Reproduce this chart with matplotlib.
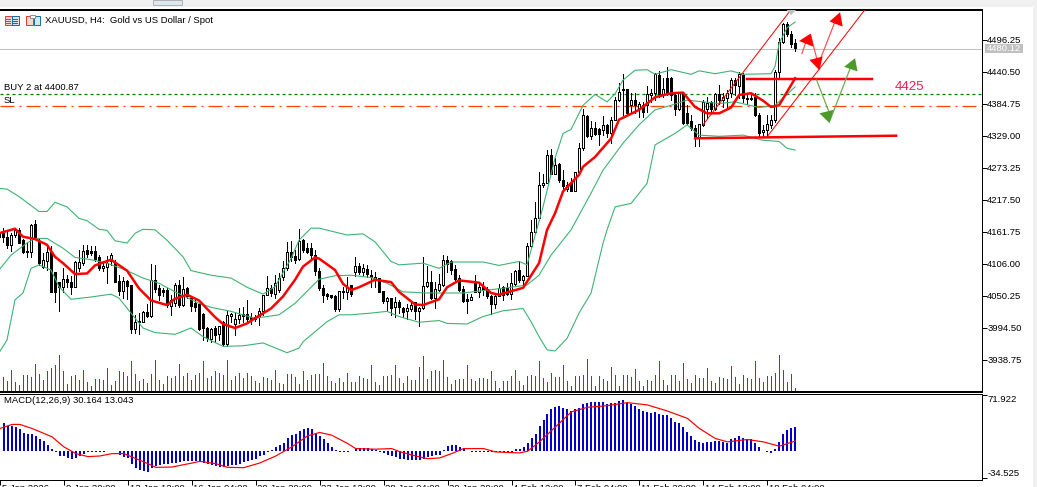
import numpy as np
import matplotlib
matplotlib.use("Agg")
import matplotlib.pyplot as plt
from matplotlib.patches import Rectangle

# === Candles (XAUUSD H4) ===
opens = [4160, 4160, 4152, 4139, 4156, 4165, 4147, 4129, 4127, 4175, 4145, 4101, 4111, 4127, 4092, 4075, 4065, 4079, 4075, 4065,
         4098, 4108, 4130, 4128, 4128, 4118, 4098, 4101, 4110, 4107, 4076, 4059, 4076, 4069, 3992, 4004, 4005, 4022, 4015, 4078,
         4063, 4060, 4060, 4033, 4037, 4069, 4034, 4063, 4046, 4037, 4036, 4019, 3994, 3975, 3994, 3984, 4005, 3966, 4015, 4001,
         4009, 4019, 4019, 4014, 4013, 4013, 4024, 4052, 4063, 4053, 4060, 4082, 4098, 4127, 4120, 4114, 4147, 4133, 4133, 4121,
         4094, 4063, 4053, 4051, 4050, 4027, 4057, 4057, 4069, 4091, 4102, 4091, 4096, 4086, 4078, 4081, 4059, 4041, 4046, 4030,
         4039, 4029, 4023, 4027, 4039, 4023, 4028, 4067, 4074, 4046, 4060, 4069, 4113, 4110, 4097, 4081, 4062, 4045, 4043, 4072,
         4057, 4066, 4062, 4050, 4036, 4049, 4065, 4063, 4053, 4071, 4095, 4078, 4085, 4136, 4161, 4185, 4243, 4247, 4295, 4263,
         4280, 4252, 4237, 4246, 4233, 4265, 4307, 4363, 4328, 4342, 4341, 4339, 4348, 4333, 4357, 4391, 4408, 4410, 4382, 4392,
         4377, 4382, 4382, 4400, 4403, 4435, 4401, 4429, 4429, 4400, 4375, 4403, 4368, 4355, 4342, 4326, 4348, 4375, 4387, 4375,
         4401, 4391, 4394, 4403, 4426, 4415, 4435, 4393, 4395, 4396, 4365, 4335, 4339, 4348, 4356, 4440, 4493, 4523, 4507, 4491]
closes = [4153, 4152, 4139, 4156, 4165, 4142, 4127, 4127, 4173, 4150, 4107, 4113, 4127, 4057, 4057, 4065, 4079, 4074, 4065, 4109,
          4109, 4129, 4123, 4124, 4114, 4098, 4102, 4107, 4121, 4075, 4059, 4076, 4067, 3992, 4004, 4007, 4022, 4015, 4078, 4062,
          4052, 4056, 4034, 4043, 4069, 4034, 4062, 4049, 4033, 4031, 3992, 3994, 3976, 3992, 3982, 3997, 3966, 4017, 4019, 4009,
          4017, 4015, 4009, 4009, 4009, 4024, 4052, 4063, 4055, 4072, 4081, 4098, 4127, 4118, 4113, 4146, 4130, 4127, 4121, 4094,
          4063, 4052, 4050, 4048, 4027, 4059, 4059, 4065, 4053, 4102, 4092, 4098, 4088, 4082, 4082, 4057, 4041, 4046, 4028, 4039,
          4030, 4022, 4028, 4034, 4023, 4028, 4067, 4074, 4046, 4062, 4071, 4113, 4106, 4095, 4079, 4060, 4041, 4041, 4048, 4057,
          4065, 4060, 4049, 4036, 4049, 4063, 4052, 4053, 4072, 4094, 4078, 4085, 4137, 4161, 4185, 4243, 4247, 4295, 4263, 4278,
          4251, 4241, 4243, 4233, 4265, 4307, 4365, 4328, 4342, 4332, 4332, 4348, 4333, 4357, 4391, 4406, 4410, 4368, 4392, 4382,
          4385, 4371, 4401, 4403, 4436, 4400, 4410, 4403, 4400, 4375, 4403, 4352, 4352, 4342, 4326, 4349, 4388, 4386, 4375, 4401,
          4391, 4397, 4403, 4426, 4418, 4436, 4394, 4395, 4393, 4365, 4333, 4339, 4349, 4356, 4440, 4493, 4523, 4506, 4488, 4481]
highs = [4181, 4168, 4162, 4159, 4168, 4168, 4149, 4144, 4176, 4182, 4150, 4124, 4136, 4136, 4092, 4075, 4098, 4086, 4085, 4110,
         4130, 4139, 4139, 4136, 4136, 4121, 4110, 4120, 4124, 4113, 4086, 4082, 4078, 4069, 4017, 4020, 4023, 4036, 4106, 4104,
         4069, 4063, 4063, 4052, 4072, 4078, 4082, 4066, 4049, 4046, 4037, 4020, 3995, 3994, 3997, 3998, 4007, 4023, 4021, 4020,
         4029, 4031, 4043, 4020, 4017, 4029, 4052, 4085, 4069, 4086, 4089, 4110, 4143, 4145, 4130, 4166, 4149, 4142, 4142, 4130,
         4098, 4069, 4055, 4052, 4052, 4059, 4066, 4082, 4069, 4117, 4108, 4106, 4104, 4095, 4091, 4081, 4059, 4048, 4047, 4048,
         4043, 4030, 4036, 4040, 4040, 4031, 4117, 4102, 4094, 4075, 4088, 4121, 4120, 4113, 4104, 4086, 4067, 4053, 4053, 4086,
         4072, 4075, 4065, 4052, 4055, 4071, 4067, 4073, 4089, 4095, 4110, 4086, 4142, 4182, 4214, 4266, 4263, 4304, 4305, 4291,
         4281, 4269, 4249, 4255, 4266, 4316, 4375, 4365, 4355, 4353, 4342, 4363, 4349, 4362, 4397, 4421, 4437, 4411, 4403, 4404,
         4388, 4388, 4415, 4411, 4439, 4442, 4429, 4449, 4432, 4401, 4406, 4406, 4382, 4365, 4348, 4349, 4391, 4397, 4390, 4404,
         4417, 4403, 4408, 4429, 4429, 4440, 4439, 4403, 4403, 4403, 4368, 4348, 4365, 4365, 4443, 4500, 4526, 4527, 4512, 4497]
lows = [4149, 4144, 4133, 4129, 4153, 4142, 4124, 4117, 4117, 4149, 4104, 4098, 4095, 4057, 4040, 4023, 4057, 4065, 4053, 4065,
        4094, 4104, 4118, 4121, 4110, 4095, 4094, 4073, 4104, 4075, 4052, 4046, 4044, 3986, 3986, 3984, 4004, 4014, 4014, 4057,
        4043, 4049, 4030, 4017, 4033, 4031, 4033, 4046, 4023, 4024, 3991, 3973, 3972, 3970, 3970, 3973, 3963, 3962, 4005, 3982,
        4002, 4005, 4002, 4001, 4007, 4000, 4017, 4052, 4049, 4046, 4057, 4078, 4095, 4110, 4107, 4113, 4127, 4124, 4113, 4086,
        4060, 4040, 4044, 4046, 4023, 4023, 4046, 4044, 4049, 4084, 4088, 4086, 4082, 4066, 4065, 4056, 4038, 4026, 4017, 4013,
        4021, 4014, 4009, 4023, 4009, 3997, 4027, 4066, 4045, 4028, 4059, 4067, 4091, 4088, 4078, 4059, 4040, 4020, 4042, 4056,
        4048, 4052, 4046, 4019, 4028, 4049, 4043, 4052, 4044, 4069, 4075, 4065, 4084, 4135, 4159, 4182, 4240, 4246, 4262, 4262,
        4249, 4232, 4232, 4232, 4232, 4263, 4304, 4327, 4324, 4330, 4313, 4330, 4326, 4316, 4356, 4390, 4365, 4367, 4368, 4368,
        4362, 4362, 4371, 4388, 4391, 4397, 4397, 4400, 4391, 4365, 4374, 4350, 4350, 4339, 4311, 4311, 4346, 4359, 4371, 4374,
        4384, 4379, 4377, 4397, 4400, 4394, 4388, 4385, 4391, 4363, 4328, 4326, 4327, 4343, 4353, 4427, 4491, 4502, 4484, 4477]

# tick volume, hundreds
volumes = [0, 42, 30, 63, 27, 18, 48, 48, 43, 82, 53, 35, 60, 70, 80, 110, 60, 22, 47, 48,
           35, 65, 27, 15, 38, 37, 35, 70, 20, 30, 62, 58, 45, 90, 53, 30, 38, 25, 52, 95,
           35, 22, 45, 40, 45, 83, 45, 55, 35, 50, 55, 92, 40, 45, 60, 55, 50, 95, 35, 45,
           55, 40, 55, 45, 30, 25, 43, 40, 35, 65, 25, 23, 52, 52, 43, 22, 60, 35, 50, 52,
           52, 85, 45, 30, 25, 40, 28, 55, 28, 28, 45, 40, 38, 78, 27, 20, 45, 45, 48, 78,
           40, 25, 45, 35, 35, 72, 105, 38, 62, 65, 60, 95, 42, 22, 35, 38, 38, 80, 38, 30,
           40, 40, 38, 62, 30, 10, 30, 32, 45, 65, 32, 20, 47, 50, 45, 90, 40, 27, 55, 42,
           42, 78, 32, 15, 45, 45, 50, 97, 45, 17, 45, 37, 32, 72, 50, 15, 48, 48, 42, 68,
           32, 15, 35, 32, 50, 90, 35, 20, 48, 48, 30, 85, 38, 26, 48, 39, 39, 69, 30, 24,
           42, 39, 36, 75, 42, 21, 48, 39, 36, 90, 39, 27, 45, 45, 54, 108, 63, 27, 51, 9]

# === Moving average and Bollinger bands, (bar, price) readings ===
ma_bars = [0, 4, 6, 9, 12, 14, 16, 19, 22, 24, 28, 32, 35, 38, 42, 44, 47, 50, 54, 56, 59, 62, 64, 68, 71, 74, 76, 79, 80, 84,
           86, 88, 90, 94, 98, 100, 104, 106, 110, 112, 115, 120, 123, 125, 129, 131, 135, 137, 139, 141, 145, 146, 149, 153,
           155, 160, 164, 168, 171, 174, 177, 180, 183, 185, 188, 191, 193, 195, 199]
ma_vals = [4159, 4167, 4153, 4149, 4139, 4118, 4107, 4088, 4089, 4103, 4113, 4094, 4063, 4042, 4034, 4045, 4052, 4042, 4013, 4001,
           3994, 4002, 4011, 4028, 4049, 4078, 4101, 4117, 4115, 4095, 4071, 4060, 4065, 4078, 4074, 4057, 4035, 4034, 4044, 4065,
           4077, 4073, 4055, 4052, 4060, 4064, 4107, 4165, 4194, 4232, 4261, 4275, 4292, 4324, 4357, 4374, 4396, 4403, 4404, 4379,
           4368, 4368, 4378, 4400, 4403, 4390, 4379, 4382, 4429]

bb_up_bars = [0, 2, 5, 10, 12, 14, 17, 20, 22, 25, 27, 29, 32, 34, 36, 39, 42, 46, 48, 53, 58, 62, 66, 69, 73, 75, 78, 80, 87,
              91, 94, 98, 100, 106, 110, 113, 121, 125, 130, 132, 134, 136, 139, 141, 143, 146, 149, 152, 154, 156, 159, 162,
              164, 168, 173, 175, 179, 183, 186, 193, 194, 195, 197, 199]
bb_up_vals = [4237, 4236, 4223, 4197, 4197, 4213, 4205, 4185, 4181, 4166, 4164, 4146, 4142, 4159, 4166, 4165, 4147, 4118, 4094,
              4086, 4081, 4065, 4053, 4066, 4115, 4147, 4168, 4168, 4156, 4158, 4144, 4110, 4104, 4107, 4098, 4109, 4109, 4103,
              4110, 4104, 4155, 4205, 4290, 4333, 4340, 4382, 4401, 4388, 4402, 4426, 4443, 4444, 4436, 4444, 4436, 4442, 4437,
              4442, 4436, 4437, 4450, 4490, 4517, 4527]
bb_mid_bars = [0, 3, 7, 9, 12, 16, 19, 23, 27, 32, 36, 40, 44, 50, 53, 58, 64, 70, 74, 78, 80, 84, 88, 93, 97, 101, 107, 116,
               122, 128, 132, 135, 138, 143, 148, 151, 156, 160, 164, 168, 172, 176, 180, 184, 190, 194, 199]
bb_mid_vals = [4095, 4121, 4142, 4150, 4150, 4133, 4117, 4113, 4107, 4094, 4081, 4072, 4057, 4037, 4030, 4023, 4011, 4017, 4037,
               4065, 4079, 4085, 4086, 4082, 4072, 4057, 4055, 4055, 4060, 4065, 4069, 4086, 4121, 4165, 4229, 4269, 4316, 4348,
               4374, 4382, 4391, 4388, 4385, 4388, 4378, 4382, 4414]
bb_lo_bars = [0, 2, 4, 6, 8, 10, 13, 15, 18, 23, 28, 30, 33, 36, 39, 44, 48, 51, 56, 61, 66, 72, 75, 76, 82, 85, 88, 93, 97, 100,
              105, 110, 112, 117, 121, 126, 131, 133, 135, 137, 139, 142, 145, 148, 151, 152, 154, 158, 162, 164, 169, 172, 175,
              180, 186, 191, 195, 197, 199]
bb_lo_vals = [3951, 3973, 4043, 4055, 4098, 4104, 4095, 4066, 4044, 4048, 4053, 4046, 4020, 3994, 3986, 3983, 3994, 3979, 3962,
              3963, 3968, 3951, 3959, 3970, 4005, 4017, 4017, 4020, 4023, 4014, 4004, 4007, 4002, 4001, 4014, 4024, 4028, 4005,
              3979, 3956, 3954, 3976, 4020, 4055, 4142, 4165, 4205, 4211, 4246, 4313, 4333, 4348, 4330, 4328, 4330, 4321, 4319,
              4307, 4304]

# === MACD(12,26,9) ===
macd_hist = [0, 35.3, 31.9, 31.9, 30.6, 27.6, 23.4, 22.1, 22.1, 19.1, 14.9, 12.8, 8.5, 3.4, -0.9, -6.0, -6.4, -8.5, -10.2, -8.5,
             -6.0, -3.4, -0.9, -0.4, -0.4, -0.4, -0.4, 0.4, 0.4, 0.4, -4.3, -7.2, -8.5, -16.2, -21.3, -23.8, -25.5, -26.4, -21.3, -19.1,
             -17.0, -16.2, -16.2, -14.9, -14.9, -13.6, -11.9, -11.9, -11.9, -11.9, -12.8, -14.9, -16.2, -17.9, -19.1, -20.0, -20.4, -19.1, -17.9, -17.9,
             -16.2, -13.6, -12.8, -11.0, -9.4, -6.0, -4.3, -0.9, 1.3, 5.1, 7.7, 10.6, 17.0, 20.4, 22.1, 25.5, 27.6, 28.9, 27.6, 22.1,
             19.1, 14.9, 10.6, 5.1, 1.3, -0.4, -0.4, -0.9, 0.9, 3.4, 4.3, 4.3, 4.3, 3.4, 1.7, -0.4, -2.6, -4.3, -6.0, -7.7,
             -9.4, -10.2, -11.5, -11.5, -11.0, -11.5, -9.4, -6.8, -6.0, -5.1, -4.3, 2.1, 6.4, 7.7, 7.7, 6.0, 3.4, 0.9, -0.4, -0.4,
             -0.4, -0.4, -0.4, -1.3, -1.3, -0.9, -0.9, -0.9, -0.9, 2.6, 3.4, 5.1, 10.2, 16.2, 22.1, 31.9, 39.1, 47.6, 53.1, 56.1,
             57.4, 55.3, 53.1, 51.0, 53.1, 55.3, 59.5, 60.8, 62.9, 62.1, 62.1, 62.1, 59.5, 60.8, 60.8, 63.8, 64.6, 61.6, 59.5, 57.4,
             53.6, 51.0, 49.3, 48.5, 49.7, 47.6, 45.9, 45.5, 42.5, 37.0, 35.3, 30.6, 24.7, 19.1, 14.0, 11.5, 10.2, 11.1, 11.5, 12.8,
             13.6, 11.9, 10.6, 14.9, 16.2, 19.1, 16.2, 14.9, 14.9, 10.6, 5.1, 0.2, -0.4, -1.7, 2.6, 11.1, 21.3, 26.8, 28.9, 30.6]
signal_bars = [0, 3, 5, 8, 10, 13, 16, 19, 22, 25, 28, 31, 33, 37, 39, 43, 48, 50, 54, 57, 61, 65, 69, 73, 77, 80, 83, 87, 89,
               94, 98, 100, 104, 107, 110, 113, 116, 121, 124, 130, 132, 135, 139, 143, 147, 152, 157, 162, 167, 172, 175, 179,
               182, 187, 191, 195, 199]
signal_vals = [28.9, 34.0, 34.0, 28.9, 24.7, 18.3, 5.5, -3.0, -6.8, -6.0, -3.0, -3.0, -7.2, -15.7, -20.4, -20.0, -15.0, -12.8,
               -15.7, -20.4, -20.8, -14.9, -6.0, 5.5, 19.6, 23.8, 20.4, 9.8, 3.4, 2.6, 3.4, -0.5, -6.0, -9.4, -8.5, -3.0, 3.4, 3.4,
               -0.9, -2.1, 0.0, 11.9, 31.0, 50.0, 55.7, 57.8, 61.6, 58.7, 51.0, 41.7, 28.9, 16.2, 11.9, 14.9, 11.9, 6.4, 13.0]

# === Axis labels ===
price_ticks = [3938.75, 3994.50, 4050.25, 4106.00, 4161.75, 4217.50, 4273.25, 4329.00, 4384.75, 4440.50, 4496.25]
macd_ticks = [-34.525, 71.922]
time_bars = [0, 16, 32, 48, 64, 80, 96, 112, 128, 144, 160, 176, 192]
time_labels = ["5 Jan 2026", "9 Jan 20:00", "13 Jan 12:00", "16 Jan 04:00", "20 Jan 20:00", "23 Jan 12:00", "28 Jan 04:00",
               "30 Jan 20:00", "4 Feb 12:00", "7 Feb 04:00", "11 Feb 20:00", "14 Feb 12:00", "18 Feb 04:00"]

# === Price levels and drawn objects ===
bid_price = 4480.12
buy_price = 4400.87
sl_price = 4380
res_bars, res_vals = [187, 218.25], [4428, 4428]
sup_bars, sup_vals = [174, 224.25], [4324.5, 4329]
chan1_bars, chan1_vals = [176, 199], [4348, 4558]
chan2_bars, chan2_vals = [192, 217.5], [4327, 4558]
red_shafts = [([200.7, 201.9], [4472, 4496]), ([202.9, 204.4], [4504, 4464]), ([205.4, 209.0], [4464, 4528])]
red_heads = [([200.0, 202.9, 203.6], [4494, 4507, 4484]), ([202.6, 205.9, 205.1], [4461, 4467, 4443]),
             ([207.6, 210.25, 210.9], [4528, 4544, 4519])]
green_shafts = [([204.4, 207.6], [4426, 4368]), ([207.75, 212.75], [4356, 4446])]
green_heads = [([205.1, 208.6, 207.6], [4368, 4374, 4351]), ([211.25, 214.0, 214.6], [4449, 4464, 4441])]

FONT = "Liberation Sans"
FS = 6.8
PX = 0.72  # one pixel in points at dpi 100
W, H = 1037, 487

plt.rcParams['font.family'] = FONT
fig = plt.figure(figsize=(W / 100, H / 100), dpi=100, facecolor='white')


def pane(x0, y0, x1, y1):
    return fig.add_axes([x0 / W, 1 - y1 / H, (x1 - x0) / W, (y1 - y0) / H])


# window chrome behind the panes
chrome = fig.add_axes([0, 0, 1, 1], zorder=-1)
chrome.set_xlim(0, W)
chrome.set_ylim(H, 0)
chrome.axis('off')
chrome.add_patch(Rectangle((0, 0), W, 7, fc='#f0f0f0', ec='none'))
chrome.add_patch(Rectangle((1033, 0), 4, H, fc='#f0f0f0', ec='none'))
chrome.add_patch(Rectangle((153, 0), 29, 5, fc='#dce7f3', ec='#b0b0b0', lw=PX))

bars = np.arange(len(closes))
opens_a, closes_a = np.array(opens), np.array(closes)
up = closes_a >= opens_a

# === Main pane ===
ax = pane(0, 9.5, 981.5, 391.5)
ax.set_xlim(0.25, 245.6)
ax.set_ylim(3883.4, 4548.85)

ax.axhline(bid_price, color='#c0c0c0', lw=PX, zorder=1)
ax.axhline(buy_price, color='#008000', lw=0.9, ls=(0, (2.4, 2.4)), zorder=1)
ax.axhline(sl_price, color='#ff4500', lw=0.9, ls=(0, (11.2, 4, 1.6, 4)), zorder=1)

ax.vlines(bars, lows, highs, color='black', lw=PX, antialiased=False, zorder=3)
ax.bar(bars, closes_a - opens_a, bottom=opens_a, width=0.55,
       color=['white' if u else 'black' for u in up], edgecolor='black', lw=PX, antialiased=False, zorder=4)

ax.plot(bb_up_bars, bb_up_vals, color='#3cb371', lw=PX * 1.1, zorder=5)
ax.plot(bb_mid_bars, bb_mid_vals, color='#3cb371', lw=PX * 1.1, zorder=5)
ax.plot(bb_lo_bars, bb_lo_vals, color='#3cb371', lw=PX * 1.1, zorder=5)
ax.plot(ma_bars, ma_vals, color='red', lw=PX * 2.5, zorder=6)

ax.plot(res_bars, res_vals, color='red', lw=PX * 2.5, zorder=7)
ax.plot(sup_bars, sup_vals, color='red', lw=PX * 2.5, zorder=7)
ax.plot(chan1_bars, chan1_vals, color='red', lw=PX, zorder=7)
ax.plot(chan2_bars, chan2_vals, color='red', lw=PX, zorder=7)

for xs, ys in red_shafts:
    ax.plot(xs, ys, color='#ff5050', lw=PX * 1.2, zorder=8)
for xs, ys in red_heads:
    ax.fill(xs, ys, color='red', lw=0, zorder=8)
for xs, ys in green_shafts:
    ax.plot(xs, ys, color='#6aa84f', lw=PX * 1.2, zorder=8)
for xs, ys in green_heads:
    ax.fill(xs, ys, color='#4c9a2a', lw=0, zorder=8)
ax.fill([196.9, 199.25, 198], [4548, 4548, 4539], color='#c0c0c0', lw=0, zorder=8)

ax.text(224, 4413, "4425", color='#f0204a', fontsize=9.5, va='center', ha='left')
ax.text(1.25, buy_price + 12, "BUY 2 at 4400.87", fontsize=FS, va='center', ha='left', zorder=9)
ax.text(1.25, sl_price + 10, "SL", fontsize=FS, va='center', ha='left', zorder=9)

# volume shares the pane, drawn from the bottom edge
ax_vol = ax.twinx()
ax_vol.set_ylim(0, 1146)
ax_vol.vlines(bars, 0, volumes, color='#0f7a0f', lw=PX, antialiased=False)
ax_vol.set_yticks([])

ax.yaxis.tick_right()
ax.set_yticks(price_ticks)
ax.set_yticklabels([f"{p:.2f}" for p in price_ticks], fontsize=FS)
ax.tick_params(axis='y', length=3.6, width=PX, pad=0.5, color='black')
ax.set_xticks([])
for a in (ax, ax_vol):
    a.spines['left'].set_visible(False)
    for s in ('top', 'bottom', 'right'):
        a.spines[s].set_linewidth(PX)

# === MACD pane ===
am = pane(0, 393.5, 981.5, 479.5)
am.set_xlim(0.25, 245.6)
am.set_ylim(-35.8, 73.2)
am.vlines(bars[1:], 0, macd_hist[1:], color='#0000cd', lw=PX * 2, antialiased=False, zorder=2)
am.plot(signal_bars, signal_vals, color='red', lw=PX * 1.2, zorder=3)
am.text(0.9, 64.5, "MACD(12,26,9) 30.164 13.043", fontsize=FS, va='center', ha='left')

am.yaxis.tick_right()
am.set_yticks(macd_ticks)
am.set_yticklabels([f"{v:.3f}" for v in macd_ticks], fontsize=FS)
tl = am.get_yticklabels()
tl[0].set_va('bottom')
tl[1].set_va('top')
am.tick_params(axis='y', length=3.6, width=PX, pad=0.5)
am.set_xticks(time_bars)
am.set_xticklabels([])
am.tick_params(axis='x', length=3.6, width=PX)
am.spines['left'].set_visible(False)
for s in ('top', 'bottom', 'right'):
    am.spines[s].set_linewidth(PX)
for b, lab in zip(time_bars, time_labels):
    am.annotate(lab, (b, 0), xycoords=('data', 'axes fraction'), xytext=(1.2, -3.0), textcoords='offset points',
                fontsize=FS, va='top', ha='left', annotation_clip=False)

# === Header: icons and symbol text ===
chrome2 = fig.add_axes([0, 0, 1, 1], zorder=5)
chrome2.set_xlim(0, W)
chrome2.set_ylim(H, 0)
chrome2.axis('off')
chrome2.add_patch(Rectangle((4.5, 16), 7, 9, fc='#f6d5d0', ec='#e04030', lw=PX))
chrome2.add_patch(Rectangle((11.5, 16), 7, 9, fc='#d5e5f5', ec='#1c6cb0', lw=PX))
for yy in (18.5, 20.5, 22.5):
    chrome2.plot([6, 10], [yy, yy], color='#e04030', lw=PX)
    chrome2.plot([13, 17], [yy, yy], color='#1c6cb0', lw=PX)
chrome2.add_patch(Rectangle((25.5, 16), 7, 9, fc='#f6d5d0', ec='#e04030', lw=PX))
chrome2.add_patch(Rectangle((33.5, 16), 6, 9, fc='#d5e5f5', ec='#1c6cb0', lw=PX))
chrome2.add_patch(Rectangle((29.5, 15), 5, 3, fc='white', ec='#909090', lw=PX))
chrome2.set_xlim(0, W)
chrome2.set_ylim(H, 0)
chrome2.text(45, 20.5, "XAUUSD, H4:  Gold vs US Dollar / Spot", fontsize=FS, va='center', ha='left')
chrome2.add_patch(Rectangle((985, 44), 38, 9, fc='#c0c0c0', ec='none'))
chrome2.text(987, 48.5, "4480.12", color='white', fontsize=FS, va='center', ha='left')

fig.savefig("out.png", dpi=100)
